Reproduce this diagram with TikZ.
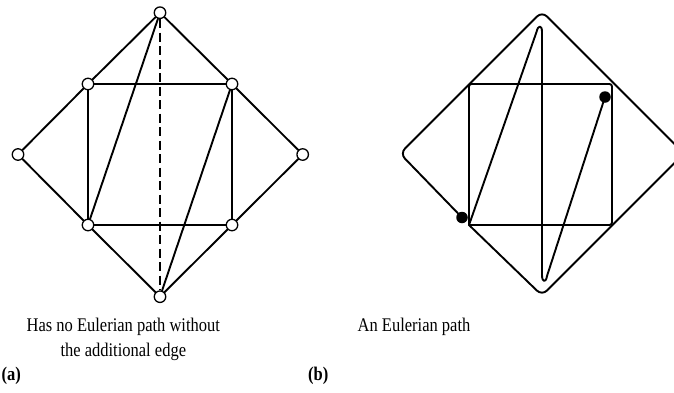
\documentclass[tikz,border=0pt]{standalone}
\usepackage{fontspec}
\usepackage{graphicx}
\setmainfont{Liberation Serif}
\newcommand{\tallsz}[1]{\scalebox{1}[1.17]{#1}}
\begin{document}
\begin{tikzpicture}[x=1pt,y=-1pt,
  edge/.style={line width=1.9pt, line cap=round, line join=round},
  dashedge/.style={line width=1.9pt, dash pattern=on 9pt off 4.5pt},
  vtx/.style={circle, draw, fill=white, line width=1.3pt, inner sep=0pt, minimum size=11.5pt},
  blackdot/.style={circle, fill=black, inner sep=0pt, minimum size=11.5pt},
  lbl/.style={font=\fontsize{16.5}{20}\selectfont, anchor=base, inner sep=0pt},
  tag/.style={font=\fontsize{16.5}{20}\selectfont\bfseries, anchor=base west, inner sep=0pt}]
\useasboundingbox (0,0) rectangle (674,392);
% ---------- (a) ----------
\node[vtx] (t)  at (160,12.7) {};
\node[vtx] (b)  at (160,296.7) {};
\node[vtx] (l)  at (18,154.5) {};
\node[vtx] (r)  at (302.7,154.5) {};
\node[vtx] (ul) at (88,84) {};
\node[vtx] (ur) at (232,84) {};
\node[vtx] (ll) at (88,225) {};
\node[vtx] (lr) at (232,225) {};
\draw[edge] (t) -- (ul) -- (l) -- (ll) -- (b) -- (lr) -- (r) -- (ur) -- (t);
\draw[edge] (ul) -- (ur) -- (lr) -- (ll) -- (ul);
\draw[edge] (t) -- (ll);
\draw[edge] (ur) -- (b);
\draw[dashedge] (t) -- (b);
% ---------- (b) ----------
\coordinate (bL)  at (400,153.5);
\coordinate (bT)  at (542,11.5);
\coordinate (bR)  at (684,153.5);
\coordinate (bB)  at (542,295.5);
\coordinate (bLL) at (469,225);
\coordinate (bUL) at (469,84);
\coordinate (bUR) at (612,84);
\coordinate (bLR) at (612,225);
\coordinate (lpA) at (536.5,32);
\coordinate (lpB) at (542,32);
\coordinate (lpC) at (542,275);
\coordinate (lpD) at (547,276);
\node[blackdot] (s) at (462,217.5) {};
\node[blackdot] (e) at (605,97) {};
\draw[edge, rounded corners=7pt] (s.center) -- (bL) -- (bT) -- (bR) -- (bB) -- (bLL);
\draw[edge, rounded corners=2.5pt] (bLL) -- (bUL) -- (bUR) -- (bLR) -- (bLL);
\draw[edge] (bLL) -- (lpA) .. controls (538,25) and (542,24.5) .. (lpB) -- (lpC)
  .. controls (542,282.5) and (546,283) .. (lpD) -- (e.center);
% ---------- labels ----------
\node[lbl] (la1) at (123.3,331.7) {\tallsz{Has no Eulerian path without}};
\node[lbl] (la2) at (123.3,356.7) {\tallsz{the additional edge}};
\node[lbl] (lb1) at (414,331.7) {\tallsz{An Eulerian path}};
\node[tag] (ta) at (1.5,380) {\tallsz{(a)}};
\node[tag] (tb) at (308,380) {\tallsz{(b)}};
\end{tikzpicture}
\end{document}
